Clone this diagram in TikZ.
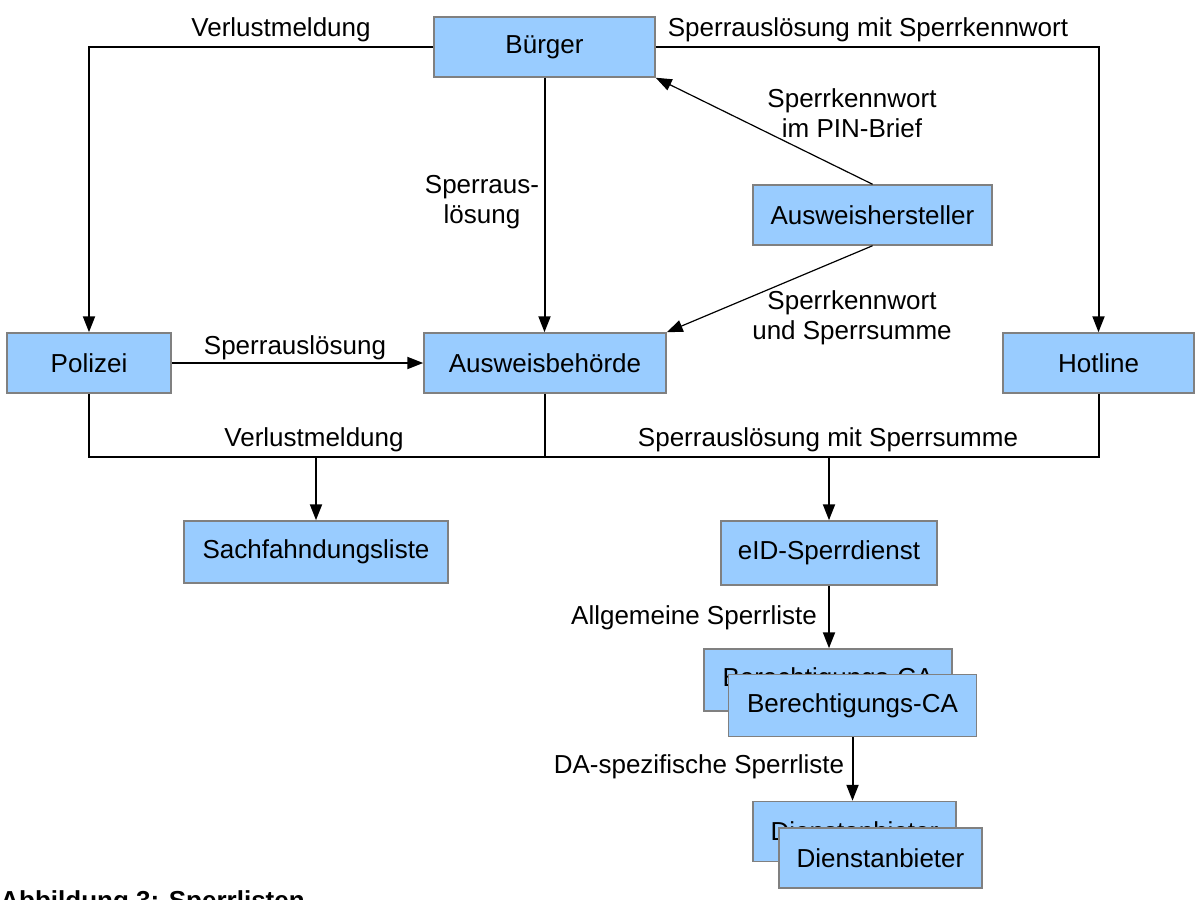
\documentclass[tikz,border=0pt]{standalone}
\usepackage{fontspec}
\setmainfont{Liberation Sans}
\usetikzlibrary{arrows.meta}
\definecolor{boxfill}{RGB}{153,204,255}
\definecolor{boxline}{RGB}{128,128,128}
\begin{document}
\begin{tikzpicture}[
    x=0.5pt, y=-0.5pt,
    every node/.style={font=\fontsize{13pt}{15pt}\selectfont},
    stelle/.style={draw=boxline, fill=boxfill, line width=0.75pt, minimum height=30pt, inner sep=0pt},
    lbl/.style={align=center, inner sep=0pt},
    fluss/.style={line width=1pt, -{Triangle[length=8pt,width=6pt]}},
    duenn/.style={line width=0.6pt, -{Triangle[length=8pt,width=6pt]}},
    bus/.style={line width=1pt},
  ]
  \clip (0,0) rectangle (1204,899);
  \fill[white] (0,0) rectangle (1204,899);

  \node[stelle, minimum width=110.5pt] (buerger) at (544.5,47) {Bürger};
  \node[stelle, minimum width=119.5pt] (hersteller) at (872.5,215) {Ausweishersteller};
  \node[stelle, minimum width=82pt] (polizei) at (89,363) {Polizei};
  \node[stelle, minimum width=121pt] (ausweis) at (545,363) {Ausweisbehörde};
  \node[stelle, minimum width=95.5pt] (hotline) at (1098.5,363) {Hotline};
  \node[stelle, minimum width=132pt, minimum height=31pt] (sachfahndung) at (316,552) {Sachfahndungsliste};
  \node[stelle, minimum width=108pt, minimum height=32pt] (sperrdienst) at (829,553) {eID-Sperrdienst};
  \node[stelle, minimum width=124pt, minimum height=31pt] (caHinten) at (828,680) {Berechtigungs-CA};
  \node[stelle, minimum width=124pt, minimum height=31pt] (caVorn) at (852.5,705.5) {Berechtigungs-CA};
  \node[stelle, minimum width=101.5pt] (daHinten) at (854.5,831.5) {Dienstanbieter};
  \node[stelle, minimum width=101.5pt] (daVorn) at (880.5,858) {Dienstanbieter};

  \coordinate (sammel) at (0,457);

  \draw[fluss] (buerger.west) -| (polizei.north);
  \draw[fluss] (buerger.east) -| (hotline.north);
  \draw[fluss] (buerger.south) -- (buerger.south |- ausweis.north);
  \draw[fluss] (polizei.east) -- (ausweis.west);
  \draw[duenn] (hersteller.north) -- (buerger.south east);
  \draw[duenn] (hersteller.south) -- (ausweis.north east);
  \draw[bus] (polizei.south) -- (polizei.south |- sammel) -| (hotline.south);
  \draw[bus] (ausweis.south) -- (ausweis.south |- sammel);
  \draw[fluss] (sachfahndung.north |- sammel) -- (sachfahndung.north);
  \draw[fluss] (sperrdienst.north |- sammel) -- (sperrdienst.north);
  \draw[fluss] (sperrdienst.south) -- (sperrdienst.south |- caHinten.north);
  \draw[fluss] (caVorn.south) -- (caVorn.south |- daHinten.north);

  \node[lbl] (lVerlustOben) at (281,30) {Verlustmeldung};
  \node[lbl] (lKennwortOben) at (868,30) {Sperrauslösung mit Sperrkennwort};
  \node[lbl] (lAusloesung) at (482,202) {Sperraus-\\lösung};
  \node[lbl] (lPinBrief) at (852,113) {Sperrkennwort\\im PIN-Brief};
  \node[lbl] (lSumme) at (852,318) {Sperrkennwort\\und Sperrsumme};
  \node[lbl] (lPolizei) at (295,348) {Sperrauslösung};
  \node[lbl] (lVerlustUnten) at (314,440) {Verlustmeldung};
  \node[lbl] (lSummeUnten) at (828,440) {Sperrauslösung mit Sperrsumme};
  \node[lbl] (lAllgemein) at (694,618) {Allgemeine Sperrliste};
  \node[lbl] (lSpezifisch) at (699,767) {DA-spezifische Sperrliste};
  \node[lbl, anchor=base west, font=\fontsize{13pt}{15pt}\selectfont\bfseries] (titel) at (0,909) {Abbildung 3: Sperrlisten};
\end{tikzpicture}
\end{document}
